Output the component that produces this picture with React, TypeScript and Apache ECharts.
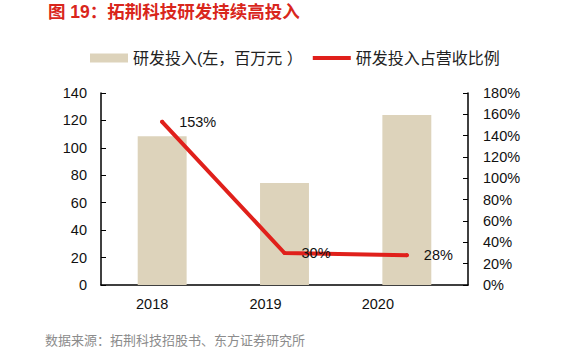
import React, { useEffect, useRef } from "react";
import * as echarts from "echarts";

const years = ["2018", "2019", "2020"];
const rdSpend = [108.5, 74.4, 124];
const rdRatio = [153, 30, 28];
const leftTicks = [0, 20, 40, 60, 80, 100, 120, 140];
const rightTicks = [0, 20, 40, 60, 80, 100, 120, 140, 160, 180];
const titleText = "图 19：拓荆科技研发持续高投入";
const sourceText = "数据来源：拓荆科技招股书、东方证券研究所";
const barName = "研发投入(左，百万元 ）";
const lineName = "研发投入占营收比例";

const FONT = "'Liberation Sans', Arial, 'Noto Sans CJK SC', sans-serif";

export default function App() {
  const ref = useRef<HTMLDivElement>(null);
  useEffect(() => {
    if (!ref.current) return;
    const chart = echarts.init(ref.current, undefined, { renderer: "svg" });
    chart.setOption({
      animation: false,
      backgroundColor: "#ffffff",
      textStyle: { fontFamily: FONT },
      graphic: [
        {
          type: "text",
          left: 48,
          top: 3,
          style: {
            text: titleText,
            fill: "#d9261c",
            font: `bold 17.5px ${FONT}`,
          },
        },
        {
          type: "text",
          left: 45,
          top: 334,
          style: {
            text: sourceText,
            fill: "#8c8c8c",
            font: `13px ${FONT}`,
          },
        },
      ],
      legend: {
        top: 45,
        left: 85,
        itemGap: 10,
        itemWidth: 38,
        itemHeight: 9,
        textStyle: { fontSize: 16, color: "#222", fontFamily: FONT },
        data: [
          { name: barName, icon: "rect" },
          {
            name: lineName,
            icon: "path://M0,0 L40,0 L40,4 L0,4 Z",
            itemStyle: { color: "#e0201b" },
          },
        ],
      },
      grid: { left: 101, right: 94, top: 93, bottom: 68 },
      xAxis: {
        type: "category",
        data: years,
        axisLine: { lineStyle: { color: "#000", width: 1.5 } },
        axisTick: { show: false },
        axisLabel: {
          margin: 12,
          fontSize: 14.5,
          color: "#111",
          formatter: (v: string, i: number) => `{p${i}|${v}}`,
          rich: {
            p0: { fontSize: 14.5, color: "#111", padding: [0, 20, 0, 0] },
            p1: { fontSize: 14.5, color: "#111", padding: [0, 38, 0, 0] },
            p2: { fontSize: 14.5, color: "#111", padding: [0, 58, 0, 0] },
          },
        },
      },
      yAxis: [
        {
          type: "value",
          min: leftTicks[0],
          max: leftTicks[leftTicks.length - 1],
          interval: 20,
          splitLine: { show: false },
          axisLine: { show: true, lineStyle: { color: "#000", width: 1.5 } },
          axisTick: { show: true, inside: true, length: 5, lineStyle: { color: "#000" } },
          axisLabel: { margin: 14, fontSize: 14.5, color: "#111" },
        },
        {
          type: "value",
          min: rightTicks[0],
          max: rightTicks[rightTicks.length - 1],
          interval: 20,
          splitLine: { show: false },
          axisLine: { show: true, lineStyle: { color: "#000", width: 1.5 } },
          axisTick: { show: true, inside: true, length: 5, lineStyle: { color: "#000" } },
          axisLabel: { margin: 15, fontSize: 14.5, color: "#111", formatter: "{value}%" },
        },
      ],
      series: [
        {
          name: barName,
          type: "bar",
          data: rdSpend,
          barWidth: "40%",
          itemStyle: { color: "#ddd3bb" },
          yAxisIndex: 0,
        },
        {
          name: lineName,
          type: "line",
          data: rdRatio,
          yAxisIndex: 1,
          symbol: "circle",
          symbolSize: 4,
          showSymbol: true,
          lineStyle: { color: "#e0201b", width: 4, cap: "round" },
          itemStyle: { color: "#e0201b" },
          label: {
            show: true,
            position: "right",
            distance: 15,
            fontSize: 14.5,
            color: "#111",
            formatter: "{c}%",
          },
          z: 5,
        },
      ],
    });
    return () => chart.dispose();
  }, []);
  return <div ref={ref} style={{ width: 562, height: 353, position: "absolute", left: 0, top: 0 }} />;
}
